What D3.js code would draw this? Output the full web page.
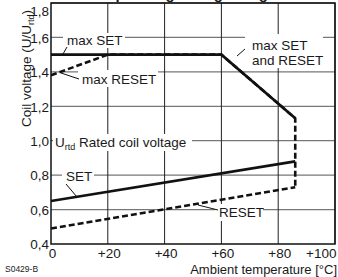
<!DOCTYPE html>
<html>
<head>
<meta charset="utf-8">
<script src="https://cdn.jsdelivr.net/npm/d3@7"></script>
<style>
  body { margin: 0; background: #fff; }
  svg text { font-family: "Liberation Sans", Arial, sans-serif; fill: #1a1a1a; }
</style>
</head>
<body>
<svg id="chart" width="338" height="277"></svg>
<script>
// ticks
const xTicks = [0, 20, 40, 60, 80, 100];
const yTicks = [0.4, 0.6, 0.8, 1.0, 1.2, 1.4, 1.6, 1.8];

// curves: [temperature, U/Urtd]
const maxSet   = [[0, 1.5], [60, 1.5], [86, 1.13]];
const maxReset = [[0, 1.38], [20, 1.5], [60, 1.5], [86, 1.13], [86, 0.73]];
const setLine  = [[0, 0.65], [86, 0.88]];
const resetLine = [[0, 0.49], [86, 0.73]];

const svg = d3.select("#chart");
const x = d3.scaleLinear().domain([0, 100]).range([51, 335]);
const y = d3.scaleLinear().domain([0.4, 1.8]).range([244, 3]);
const comma = d => d3.format(".1f")(d).replace(".", ",");

// cropped title above the plot (only its descenders reach the picture)
svg.append("text").attr("x", 190).attr("y", -1)
  .attr("text-anchor", "middle").attr("font-size", 15).attr("font-weight", "bold")
  .text("Operating voltage range");

// grid
svg.append("g").selectAll("line").data(yTicks.slice(1)).join("line")
  .attr("x1", x(0)).attr("x2", x(100))
  .attr("y1", d => y(d)).attr("y2", d => y(d))
  .attr("stroke", "#777").attr("stroke-width", 1.3);
svg.append("g").selectAll("line").data(xTicks.slice(1)).join("line")
  .attr("x1", d => x(d)).attr("x2", d => x(d))
  .attr("y1", y(0.4)).attr("y2", y(1.8))
  .attr("stroke", "#222").attr("stroke-width", 1);

// tick labels
svg.append("g").attr("transform", `translate(${x(0) - 1},0)`)
  .call(d3.axisLeft(y).tickValues(yTicks).tickSize(0).tickPadding(1).tickFormat(comma))
  .call(g => g.select(".domain").remove())
  .selectAll("text").attr("font-size", 13.5).style("font-family", "Liberation Sans, Arial")
  .attr("dy", d => d === 1.8 ? "0.95em" : "0.35em");
svg.append("g").attr("transform", `translate(0,${y(0.4) + 2})`)
  .call(d3.axisBottom(x).tickValues(xTicks).tickSize(0).tickPadding(2)
    .tickFormat(d => d === 0 ? "0" : "+" + d))
  .call(g => g.select(".domain").remove())
  .selectAll("text").attr("font-size", 13.5).style("font-family", "Liberation Sans, Arial")
  .attr("text-anchor", d => d === 100 ? "end" : "middle")
  .attr("dx", d => d === 100 ? 1 : 1);

// in-plot labels with white backing
const labels = [
  { lines: ["max SET"], x: 67, y: 45, box: [63, 33, 62, 15], lead: [[63, 54], [67, 47]] },
  { lines: ["max RESET"], x: 82, y: 84, box: [78, 70, 80, 17], lead: [[61, 73], [79, 79]] },
  { lines: ["max SET", "and RESET"], x: 252, y: 50, box: [245, 34, 78, 34], lead: [[237, 56], [245, 49]] },
  { lines: ["SET"], x: 66, y: 181, box: [62, 168, 32, 16], lead: [[66, 184], [77, 197]] },
  { lines: ["RESET"], x: 219, y: 217, box: [215, 204, 48, 17], lead: [[198, 205], [218, 210]] }
];
labels.forEach(l => {
  svg.append("rect").attr("x", l.box[0]).attr("y", l.box[1])
    .attr("width", l.box[2]).attr("height", l.box[3]).attr("fill", "#fff");
  l.lines.forEach((t, i) => svg.append("text").attr("x", l.x).attr("y", l.y + i * 15)
    .attr("font-size", 13.5).text(t));
  svg.append("line").attr("x1", l.lead[0][0]).attr("y1", l.lead[0][1])
    .attr("x2", l.lead[1][0]).attr("y2", l.lead[1][1])
    .attr("stroke", "#111").attr("stroke-width", 1);
});

// rated voltage label on the 1,0 line
svg.append("rect").attr("x", 53).attr("y", 134).attr("width", 139).attr("height", 17).attr("fill", "#fff");
const ur = svg.append("text").attr("x", 55).attr("y", 147).attr("font-size", 13.5);
ur.append("tspan").text("U");
ur.append("tspan").attr("font-size", 9).attr("dy", 3).text("rtd");
ur.append("tspan").attr("dy", -3).text(" Rated coil voltage");

// curves
const line = d3.line().x(d => x(d[0])).y(d => y(d[1]));
svg.append("path").attr("d", line(maxReset)).attr("fill", "none")
  .attr("stroke", "#111").attr("stroke-width", 2.6).attr("stroke-dasharray", "6,3");
svg.append("path").attr("d", line(resetLine)).attr("fill", "none")
  .attr("stroke", "#111").attr("stroke-width", 2.6).attr("stroke-dasharray", "6,3");
svg.append("path").attr("d", line(maxSet)).attr("fill", "none")
  .attr("stroke", "#111").attr("stroke-width", 2.6).attr("stroke-linejoin", "miter");
svg.append("path").attr("d", line(setLine)).attr("fill", "none")
  .attr("stroke", "#111").attr("stroke-width", 2.6);

// frame
svg.append("rect").attr("x", x(0)).attr("y", y(1.8))
  .attr("width", x(100) - x(0)).attr("height", y(0.4) - y(1.8))
  .attr("fill", "none").attr("stroke", "#111").attr("stroke-width", 1.5);

// axis titles
const yt = svg.append("text").attr("transform", `translate(31,127) rotate(-90)`).attr("font-size", 13.5);
yt.append("tspan").text("Coil voltage (U/U");
yt.append("tspan").attr("font-size", 9).attr("dy", 3).text("rtd");
yt.append("tspan").attr("dy", -3).text(")");
svg.append("text").attr("x", 337).attr("y", 274).attr("text-anchor", "end")
  .attr("font-size", 13).text("Ambient temperature [°C]");
svg.append("text").attr("x", 5).attr("y", 272).attr("font-size", 8.5).text("S0429-B");
</script>
</body>
</html>
